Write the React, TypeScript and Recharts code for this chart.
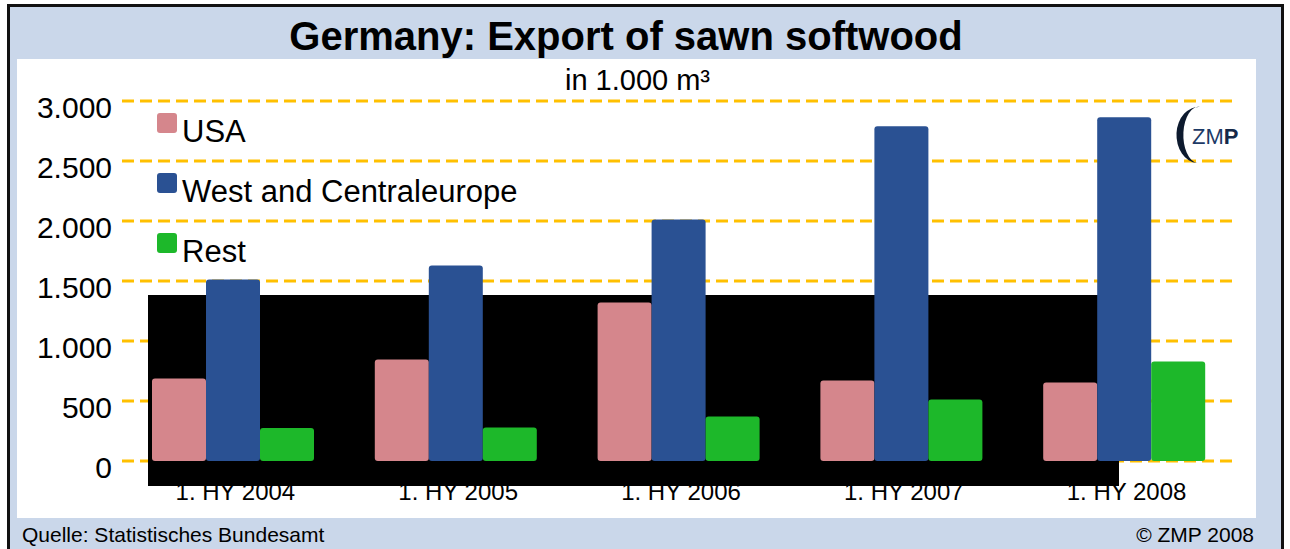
import { Bar, BarChart, CartesianGrid, Legend, XAxis, YAxis } from "recharts";

const categories = ["1. HY 2004", "1. HY 2005", "1. HY 2006", "1. HY 2007", "1. HY 2008"];
const usa = [687, 846, 1321, 671, 654];
const westCentral = [1512, 1629, 2012, 2790, 2865];
const rest = [275, 279, 371, 512, 829];
const yTicks = [0, 500, 1000, 1500, 2000, 2500, 3000];
const seriesOrder = ["USA", "West and Centraleurope", "Rest"];

const data = categories.map((c, i) => ({
  cat: c,
  usa: usa[i],
  west: westCentral[i],
  rest: rest[i],
}));

const FONT = "'Liberation Sans', Arial, Helvetica, sans-serif";
const W = 1239;
const H = 459;

function fmt(v: number) {
  if (v < 1000) return String(v);
  return `${Math.floor(v / 1000)}.${String(v % 1000).padStart(3, "0")}`;
}

function YTick(props: any) {
  const { x, y, payload } = props;
  return (
    <text x={x} y={y + 17} textAnchor="end" fontSize={30} fill="#000" fontFamily={FONT}>
      {fmt(payload.value)}
    </text>
  );
}

function XTick(props: any) {
  const { x, y, payload } = props;
  return (
    <text x={x + 2} y={y + 39} textAnchor="middle" fontSize={24} fill="#000" fontFamily={FONT}>
      {payload.value}
    </text>
  );
}

function LegendBox(props: any) {
  const items = [...(props.payload || [])].sort(
    (a: any, b: any) => seriesOrder.indexOf(a.value) - seriesOrder.indexOf(b.value)
  );
  return (
    <div style={{ fontFamily: FONT }}>
      {items.map((it: any) => (
        <div key={it.value} style={{ display: "flex", height: 60, alignItems: "flex-start" }}>
          <div style={{ width: 20, height: 20, borderRadius: 3, background: it.color, marginRight: 5 }} />
          <span style={{ fontSize: 31, lineHeight: "31px", marginTop: 3, color: "#000", whiteSpace: "nowrap" }}>
            {it.value}
          </span>
        </div>
      ))}
    </div>
  );
}

function ZmpLogo() {
  return (
    <svg width={70} height={62} style={{ position: "absolute", left: 1172, top: 104 }}>
      <path d="M 28 3 A 22 28 0 0 0 25 59 A 14 26 0 0 1 28 3 Z" fill="#0d1a2e" />
      <text x={20} y={40} fontSize={22} fontFamily={FONT} fill="#1d3a66">
        ZM<tspan fontWeight="bold" fill="#15294a">P</tspan>
      </text>
    </svg>
  );
}

export default function App() {
  return (
    <div style={{ position: "absolute", left: 0, top: 0, width: 1290, height: 549, overflow: "hidden", background: "#fff", fontFamily: FONT }}>
      <div style={{ position: "absolute", left: 7, top: 4, width: 1271, height: 560, border: "3px solid #111", background: "#cad7ea" }} />
      <div style={{ position: "absolute", left: 17, top: 59, width: W, height: H, background: "#fff" }} />
      <div style={{ position: "absolute", left: 0, width: 1252, top: 14, textAlign: "center", fontSize: 40, fontWeight: "bold", color: "#000", whiteSpace: "nowrap" }}>
        Germany: Export of sawn softwood
      </div>
      <div style={{ position: "absolute", left: 0, width: 1275, top: 64, textAlign: "center", fontSize: 29, color: "#000" }}>
        in 1.000 m³
      </div>

      {/* grid + axes layer (invisible bar only gives the axis its data) */}
      <div style={{ position: "absolute", left: 17, top: 59 }}>
        <BarChart width={W} height={H} data={data} margin={{ top: 42, right: 20, left: 0, bottom: 12 }}>
          <CartesianGrid horizontal vertical={false} stroke="#ffc000" strokeWidth={3} strokeDasharray="12 6" />
          <XAxis dataKey="cat" tick={<XTick />} tickLine={false} axisLine={false} tickSize={0} tickMargin={0} height={45} interval={0} />
          <YAxis
            domain={[0, 3000]}
            ticks={yTicks}
            tick={<YTick />}
            tickLine={false}
            axisLine={false}
            tickSize={0}
            tickMargin={10}
            width={105}
            interval={0}
          />
          <Bar dataKey="west" fillOpacity={0} isAnimationActive={false} />
        </BarChart>
      </div>

      {/* black block behind the bars, as in the source image */}
      <div style={{ position: "absolute", left: 148, top: 295, width: 971, height: 191, background: "#000" }} />

      {/* bars layer */}
      <div style={{ position: "absolute", left: 17, top: 59 }}>
        <BarChart
          width={W}
          height={H}
          data={data}
          margin={{ top: 42, right: 20, left: 105, bottom: 57 }}
          barCategoryGap={30}
          barGap={0}
        >
          <XAxis dataKey="cat" hide />
          <YAxis domain={[0, 3000]} hide />
          <Legend
            layout="vertical"
            align="center"
            verticalAlign="middle"
            content={<LegendBox />}
            wrapperStyle={{ position: "absolute", left: 140, top: 54, width: "auto", height: "auto" }}
          />
          <Bar dataKey="usa" name="USA" fill="#d5868c" radius={3} isAnimationActive={false} />
          <Bar dataKey="west" name="West and Centraleurope" fill="#2a5193" radius={3} isAnimationActive={false} />
          <Bar dataKey="rest" name="Rest" fill="#1db82a" radius={3} isAnimationActive={false} />
        </BarChart>
      </div>

      <ZmpLogo />
      <div style={{ position: "absolute", left: 22, top: 523, fontSize: 21, color: "#000" }}>Quelle: Statistisches Bundesamt</div>
      <div style={{ position: "absolute", right: 36, top: 523, fontSize: 21, color: "#000" }}>© ZMP 2008</div>
    </div>
  );
}
